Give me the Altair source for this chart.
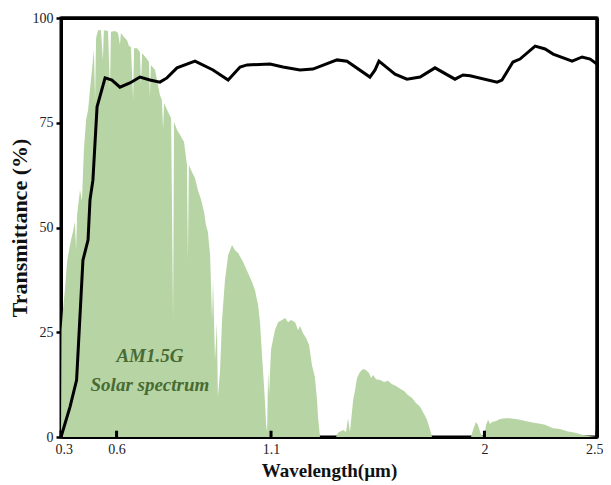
import altair as alt
import pandas as pd

# AM1.5G solar spectrum (scaled to the % axis)
spec_wl = [0.300, 0.302, 0.308, 0.316, 0.325, 0.333, 0.341, 0.349, 0.357, 0.362, 0.366, 0.378,
           0.386, 0.394, 0.403, 0.411, 0.419, 0.427, 0.435, 0.440, 0.444, 0.452, 0.464, 0.472,
           0.476, 0.493, 0.501, 0.505, 0.522, 0.534, 0.542, 0.546, 0.559, 0.571, 0.579, 0.587,
           0.596, 0.600, 0.612, 0.624, 0.628, 0.633, 0.649, 0.661, 0.665, 0.669, 0.686, 0.698,
           0.706, 0.714, 0.719, 0.723, 0.739, 0.752, 0.760, 0.764, 0.776, 0.789, 0.805, 0.817,
           0.821, 0.825, 0.838, 0.850, 0.862, 0.875, 0.887, 0.895, 0.903, 0.912, 0.920, 0.924,
           0.932, 0.940, 0.944, 0.953, 0.961, 0.973, 0.986, 1.002, 1.014, 1.027, 1.047, 1.068,
           1.084, 1.096, 1.109, 1.117, 1.125, 1.129, 1.137, 1.142, 1.146, 1.150, 1.154, 1.162,
           1.170, 1.178, 1.191, 1.207, 1.220, 1.232, 1.244, 1.261, 1.273, 1.281, 1.293, 1.306,
           1.318, 1.330, 1.342, 1.351, 1.355, 1.363, 1.429, 1.437, 1.458, 1.470, 1.478, 1.486,
           1.499, 1.507, 1.515, 1.527, 1.540, 1.552, 1.564, 1.573, 1.581, 1.593, 1.610, 1.626,
           1.642, 1.659, 1.675, 1.692, 1.708, 1.724, 1.741, 1.757, 1.774, 1.790, 1.802, 1.815,
           1.823, 1.983, 1.991, 2.003, 2.011, 2.023, 2.036, 2.045, 2.053, 2.061, 2.069, 2.086,
           2.102, 2.123, 2.143, 2.164, 2.184, 2.205, 2.225, 2.254, 2.287, 2.320, 2.348, 2.377,
           2.410, 2.443, 2.472, 2.500]
spec_val = [0.0, 25.5, 30.3, 35.1, 41.8, 44.6, 47.0, 48.9, 51.3, 44.6, 53.0, 59.0,
            56.3, 68.5, 75.7, 78.0, 82.8, 87.6, 92.4, 80.4, 95.2, 97.1, 97.1, 90.0,
            97.1, 96.9, 82.8, 96.7, 96.9, 96.4, 93.6, 96.4, 95.4, 94.7, 93.3, 93.1,
            80.4, 92.8, 92.8, 91.9, 84.0, 91.6, 90.5, 89.5, 81.1, 88.8, 87.6, 84.0,
            81.6, 80.4, 73.3, 79.7, 77.6, 76.1, 27.9, 75.2, 73.3, 72.1, 70.4, 64.9,
            42.2, 64.9, 63.2, 61.8, 58.9, 56.6, 53.7, 50.6, 48.9, 43.4, 27.9, 37.5,
            18.4, 27.2, 9.5, 16.0, 27.9, 37.5, 43.4, 45.8, 44.6, 43.9, 41.8, 39.1,
            37.0, 35.1, 31.5, 27.2, 19.6, 16.0, 8.8, 2.9, 1.2, 16.0, 10.0, 20.8,
            23.2, 25.5, 27.4, 27.9, 28.4, 27.4, 27.9, 27.4, 25.5, 26.5, 24.8, 23.6,
            22.0, 17.2, 14.3, 8.8, 4.8, 0.0, 0.0, 1.0, 1.7, 1.2, 4.5, 1.2,
            8.8, 11.2, 14.1, 15.5, 16.2, 16.0, 15.3, 14.1, 14.8, 13.8, 13.6, 13.1,
            13.4, 12.6, 12.2, 11.5, 11.0, 10.0, 9.3, 8.1, 7.2, 5.5, 4.1, 1.7,
            0.0, 0.0, 1.7, 3.6, 2.9, 0.7, 0.0, 2.9, 4.1, 3.1, 3.6, 3.8,
            4.3, 4.5, 4.5, 4.3, 4.1, 3.8, 3.6, 3.3, 2.9, 2.1, 1.9, 1.4,
            1.0, 0.5, 0.2, 0.0]

# Transmittance curve (%)
trans_wl = [0.300, 0.337, 0.364, 0.390, 0.411, 0.419, 0.431, 0.448, 0.481, 0.509, 0.542, 0.583,
            0.624, 0.665, 0.706, 0.735, 0.776, 0.850, 0.924, 0.986, 1.035, 1.064, 1.158, 1.211,
            1.281, 1.334, 1.433, 1.474, 1.568, 1.589, 1.605, 1.671, 1.720, 1.774, 1.835, 1.917,
            1.950, 1.979, 2.090, 2.110, 2.155, 2.184, 2.246, 2.287, 2.320, 2.398, 2.439, 2.472,
            2.500]
trans_val = [0.0, 7.2, 13.6, 42.2, 47.0, 56.6, 61.3, 78.8, 85.7, 85.2, 83.5, 84.5,
             85.9, 85.2, 84.7, 85.7, 88.1, 89.7, 87.6, 85.2, 88.3, 88.8, 89.0, 88.3,
             87.6, 87.8, 90.0, 89.7, 85.9, 87.6, 89.7, 86.6, 85.4, 85.9, 88.1, 85.4,
             86.4, 86.2, 84.7, 85.2, 89.5, 90.2, 93.3, 92.6, 91.4, 89.7, 90.7, 90.2,
             89.0]

# Axis ticks
x_tick_values = [0.3, 0.528, 1.162, 2.038, 2.5]
x_tick_labels = ["0.3", "0.6", "1.1", "2", "2.5"]
y_tick_values = [0, 25, 50, 75, 100]
x_tick_mark_len = 1.5  # inward tick length, in % units

# Plot frame edges (top and right), in data units
frame_top_wl = [0.3, 2.5]
frame_top_val = [100.0, 100.0]
frame_right_wl = [2.5, 2.5]
frame_right_val = [0.0, 100.0]

# Annotation
annot_text = ["AM1.5G", "Solar spectrum"]
annot_wl = [0.665, 0.665]
annot_val = [19.3, 12.4]

FONT = "Liberation Serif"

spec_df = pd.DataFrame({"wl": spec_wl, "val": spec_val})

# One table for the black polylines: transmittance curve, frame edges and inward tick marks
rows = [{"wl": w, "val": v, "series": "trans"} for w, v in zip(trans_wl, trans_val)]
rows += [{"wl": w, "val": v, "series": "frame_top"} for w, v in zip(frame_top_wl, frame_top_val)]
rows += [{"wl": w, "val": v, "series": "frame_right"} for w, v in zip(frame_right_wl, frame_right_val)]
for i, tv in enumerate(x_tick_values):
    rows.append({"wl": tv, "val": 0.0, "series": f"tick{i}"})
    rows.append({"wl": tv, "val": x_tick_mark_len, "series": f"tick{i}"})
lines_df = pd.DataFrame(rows)

annot_df = pd.DataFrame({"wl": annot_wl, "val": annot_val, "txt": annot_text})

label_expr = "".join(
    f"abs(datum.value - {v}) < 0.001 ? '{l}' : " for v, l in zip(x_tick_values, x_tick_labels)
) + "''"

x_axis = alt.Axis(
    values=x_tick_values, labelExpr=label_expr, tickSize=0, labelPadding=5,
    labelFontSize=14, labelFont=FONT, labelColor="#222222", labelFlush=True,
    labelFlushOffset=6, labelOverlap=False, title="Wavelength(µm)", titleFont=FONT,
    titleFontSize=19, titleFontWeight="bold", titleColor="#111111", titlePadding=5,
    grid=False, domainColor="black", domainWidth=3,
)
y_axis = alt.Axis(
    values=y_tick_values, tickSize=5, tickWidth=2.5, tickColor="black", labelPadding=3,
    labelFontSize=14, labelFont=FONT, labelColor="#222222", title="Transmittance (%)",
    titleFont=FONT, titleFontSize=22, titleFontWeight="bold", titleColor="#111111",
    titlePadding=1, grid=False, domainColor="black", domainWidth=3,
)
# Top and right frame edges also drawn as label-less axes
x_axis_top = alt.Axis(
    orient="top", labels=False, ticks=False, title=None, grid=False,
    domainColor="black", domainWidth=3,
)
y_axis_right = alt.Axis(
    orient="right", labels=False, ticks=False, title=None, grid=False,
    domainColor="black", domainWidth=3,
)
x_scale = alt.Scale(domain=[0.3, 2.5], nice=False, zero=False)
y_scale = alt.Scale(domain=[0, 100], nice=False)

X = alt.X("wl:Q", scale=x_scale, axis=x_axis)
Y = alt.Y("val:Q", scale=y_scale, axis=y_axis)

area = alt.Chart(spec_df).mark_area(color="#b7d4a4", interpolate="linear").encode(x=X, y=Y)
lines = alt.Chart(lines_df).mark_line(color="black", strokeWidth=3).encode(
    x=alt.X("wl:Q", scale=x_scale, axis=None),
    y=alt.Y("val:Q", scale=y_scale, axis=None),
    detail="series:N",
)
text = alt.Chart(annot_df).mark_text(
    font=FONT, fontSize=19, fontStyle="italic", fontWeight="bold", color="#476b32",
    align="center", baseline="middle",
).encode(
    x=alt.X("wl:Q", scale=x_scale, axis=x_axis_top),
    y=alt.Y("val:Q", scale=y_scale, axis=y_axis_right),
    text="txt:N",
)

chart = (
    alt.layer(area, lines, text)
    .resolve_axis(x="independent", y="independent")
    .properties(
        width=536, height=419,
        autosize=alt.AutoSizeParams(type="none"),
        padding={"left": 53, "top": 10, "right": 6, "bottom": 46},
    )
    .configure(background="white")
    .configure_view(stroke="black", strokeWidth=3)
)

chart.save("out.html", embed_options={"renderer": "svg", "actions": False})
